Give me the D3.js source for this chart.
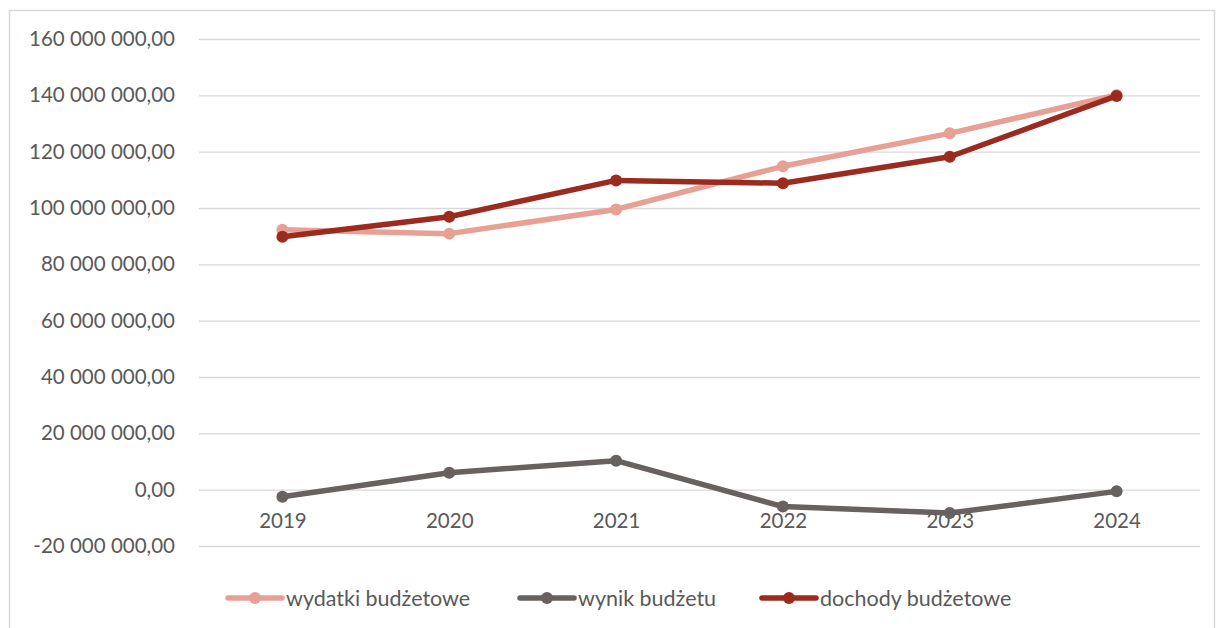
<!DOCTYPE html>
<html><head><meta charset="utf-8">
<script src="https://cdn.jsdelivr.net/npm/d3@7"></script>
<style>
html,body{margin:0;padding:0;background:#fff;}
svg{display:block;font-family:Lato,"Open Sans",sans-serif;}
</style></head>
<body>
<svg id="chart" width="1217" height="628"></svg>
<script>
const years = ["2019","2020","2021","2022","2023","2024"];
const wydatki = [92300000, 90900000, 99500000, 114800000, 126500000, 140100000];
const wynik = [-2500000, 6000000, 10300000, -6000000, -8300000, -600000];
const dochody = [89800000, 96900000, 109800000, 108800000, 118200000, 139800000];
const yTicks = [-20000000, 0, 20000000, 40000000, 60000000, 80000000, 100000000, 120000000, 140000000, 160000000];
const seriesNames = ["wydatki budżetowe", "wynik budżetu", "dochody budżetowe"];
const seriesColors = ["#E8A094", "#676160", "#9C2B1F"];

(function () {
const svg = d3.select("#chart");
const mLeft = 199, mRight = 1200, mTop = 39, mBottom = 546;
const font = "Lato, 'Open Sans', sans-serif";

svg.append("rect").attr("x", 9.5).attr("y", 10.5).attr("width", 1205).attr("height", 640)
  .attr("fill", "#fff").attr("stroke", "#d9d9d9").attr("stroke-width", 1.5);

const x = d3.scalePoint().domain(years).range([mLeft, mRight]).padding(0.5);
const y = d3.scaleLinear().domain([-20000000, 160000000]).range([mBottom, mTop]);

const fmt = v => {
  const s = d3.format(",.2f")(v);
  return s.replace(/,/g, " ").replace(".", ",").replace("−", "-");
};

const yAxis = d3.axisLeft(y).tickValues(yTicks).tickSize(-(mRight - mLeft)).tickFormat(fmt).tickPadding(24);
const gy = svg.append("g").attr("transform", `translate(${mLeft},0)`).call(yAxis);
gy.select(".domain").remove();
gy.selectAll(".tick line").attr("stroke", "#d9d9d9").attr("stroke-width", 1.3);
gy.selectAll(".tick text").attr("fill", "#595959").style("font-size", "20.5px").style("font-family", font);

const xAxis = d3.axisBottom(x).tickSize(0).tickPadding(24);
const gx = svg.append("g").attr("transform", `translate(0,${y(0)})`).call(xAxis);
gx.select(".domain").remove();
gx.selectAll(".tick text").attr("fill", "#595959").style("font-size", "20.5px").style("font-family", font);

const data = [wydatki, wynik, dochody];
const line = d3.line().x((d, i) => x(years[i])).y(d => y(d));
data.forEach((vals, k) => {
  const g = svg.append("g");
  g.append("path").datum(vals).attr("d", line).attr("fill", "none")
    .attr("stroke", seriesColors[k]).attr("stroke-width", 5.5).attr("stroke-linejoin", "round");
  g.selectAll("circle").data(vals).enter().append("circle")
    .attr("cx", (d, i) => x(years[i])).attr("cy", d => y(d)).attr("r", 6)
    .attr("fill", seriesColors[k]);
});

const legX = [228, 520, 762];
const legY = 598;
seriesNames.forEach((n, k) => {
  const g = svg.append("g").attr("transform", `translate(${legX[k]},${legY})`);
  g.append("line").attr("x1", 0).attr("x2", 54).attr("y1", 0).attr("y2", 0)
    .attr("stroke", seriesColors[k]).attr("stroke-width", 5.5).attr("stroke-linecap", "round");
  g.append("circle").attr("cx", 27).attr("cy", 0).attr("r", 6).attr("fill", seriesColors[k]);
  g.append("text").attr("x", 58).attr("y", 0).attr("dy", "0.35em").attr("fill", "#595959")
    .style("font-size", "21.5px").style("font-family", font).text(n);
});
})();
</script>
</body></html>
